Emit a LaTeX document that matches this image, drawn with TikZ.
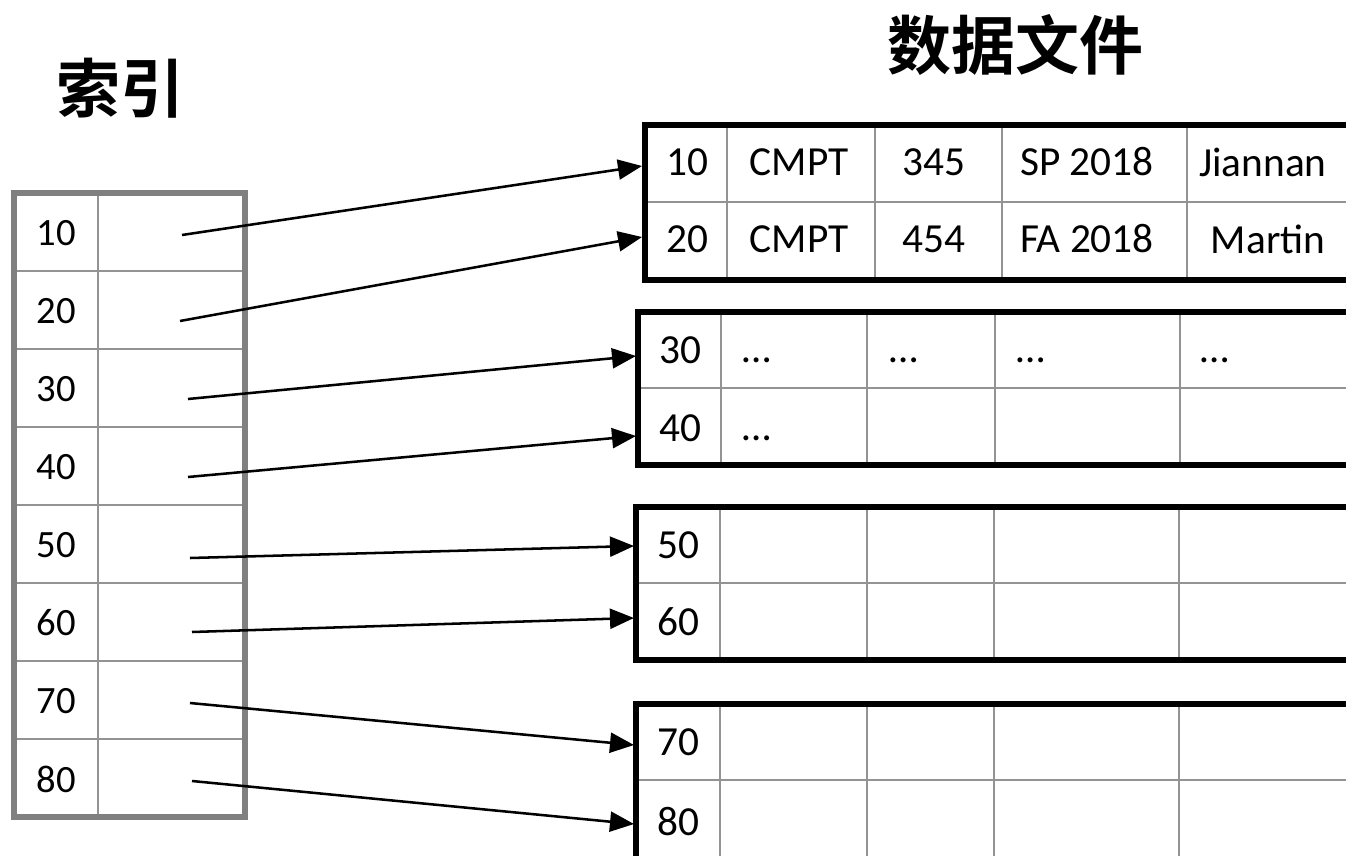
\documentclass[tikz,border=0pt]{standalone}
\usepackage{fontspec}
\setmainfont{Carlito}
\newfontfamily\cjkb{Noto Sans CJK SC Bold}
\usetikzlibrary{arrows.meta}
\tikzset{
  outerbox/.style={line width=3.8pt, black},
  innerline/.style={line width=1.5pt, gray!85},
  idxouter/.style={line width=3.8pt, gray},
  idxinner/.style={line width=1.5pt, gray!85},
  ptr/.style={line width=1.9pt, black, -{Triangle[length=18pt,width=15pt]}},
  idxlabel/.style={font=\fontsize{29}{34}\selectfont, anchor=center, inner sep=0pt},
  cell/.style={font=\fontsize{31}{36}\selectfont, anchor=center, inner sep=0pt},
  dots/.style={font=\fontsize{31}{36}\selectfont, anchor=base west, inner sep=0pt},
  title/.style={font=\cjkb\fontsize{48}{56}\selectfont, anchor=center, inner sep=0pt}
}
\begin{document}
\begin{tikzpicture}[x=0.75pt, y=-0.75pt]
\useasboundingbox (0,0) rectangle (1346,856);
\clip (0,0) rectangle (1346,856);
\fill[white] (0,0) rectangle (1346,856);

% titles
\node[title] (tidx) at (120,88) {索引};
\node[title] (tdata) at (1015,45) {数据文件};

% index table
\foreach \i in {1,...,7} { \draw[idxinner] (14,193+78*\i) -- (245,193+78*\i); }
\draw[idxinner] (98,193) -- (98,817);
\draw[idxouter] (14,193) rectangle (245,817);
\foreach \k [count=\i from 0] in {10,20,30,40,50,60,70,80} {
  \node[idxlabel] (ik\k) at (56,233+78*\i) {\k};
}
\coordinate (p10) at (182,235);
\coordinate (p20) at (180,321);
\coordinate (p30) at (188,399);
\coordinate (p40) at (188,477);
\coordinate (p50) at (190,558);
\coordinate (p60) at (192,632);
\coordinate (p70) at (190,703);
\coordinate (p80) at (192,781);

% block 1
\draw[innerline] (645,202) -- (1360,202);
\foreach \x in {727,875,1002,1187} { \draw[innerline] (\x,125) -- (\x,280); }
\draw[outerbox] (1360,125) -- (645,125) -- (645,280) -- (1360,280);
\node[cell] (d10) at (687,162) {10};
\node[cell] at (799,162) {CMPT};
\node[cell] at (934,162) {345};
\node[cell] at (1087,162) {SP 2018};
\node[cell] at (1263,162) {Jiannan};
\node[cell] (d20) at (687,239) {20};
\node[cell] at (799,239) {CMPT};
\node[cell] at (934,239) {454};
\node[cell] at (1087,239) {FA 2018};
\node[cell] at (1268,239) {Martin};
\coordinate (t10) at (642,166);
\coordinate (t20) at (642,237);

% block 2
\draw[innerline] (638,388) -- (1360,388);
\foreach \x in {721,867,995,1180} { \draw[innerline] (\x,312) -- (\x,465); }
\draw[outerbox] (1360,312) -- (638,312) -- (638,465) -- (1360,465);
\node[cell] (d30) at (680,350) {30};
\node[cell] (d40) at (680,428) {40};
\node[dots] at (742,362) {…};
\node[dots] at (889,362) {…};
\node[dots] at (1016,362) {…};
\node[dots] at (1200,362) {…};
\node[dots] at (742,440) {…};
\coordinate (t30) at (636,356);
\coordinate (t40) at (636,436);

% block 3
\draw[innerline] (636,583) -- (1360,583);
\foreach \x in {720,867,994,1179} { \draw[innerline] (\x,507) -- (\x,660); }
\draw[outerbox] (1360,507) -- (636,507) -- (636,660) -- (1360,660);
\node[cell] (d50) at (678,545) {50};
\node[cell] (d60) at (678,622) {60};
\coordinate (t50) at (634,546);
\coordinate (t60) at (634,618);

% block 4
\draw[innerline] (636,780) -- (1360,780);
\foreach \x in {720,867,994,1179} { \draw[innerline] (\x,704) -- (\x,870); }
\draw[outerbox] (1360,704) -- (636,704) -- (636,870);
\node[cell] (d70) at (678,742) {70};
\node[cell] (d80) at (678,822) {80};
\coordinate (t70) at (634,745);
\coordinate (t80) at (634,824);

% pointers
\foreach \k in {10,20,30,40,50,60,70,80} { \draw[ptr] (p\k) -- (t\k); }
\end{tikzpicture}
\end{document}
